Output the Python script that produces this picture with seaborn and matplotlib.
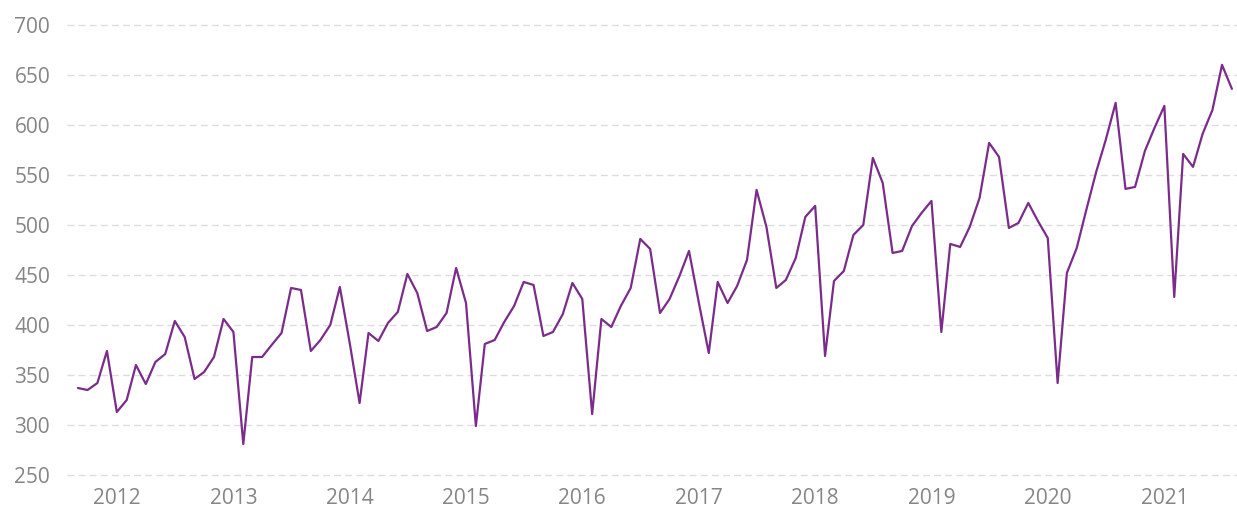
import matplotlib
matplotlib.use("Agg")
import matplotlib.pyplot as plt
import matplotlib.dates as mdates
import seaborn as sns
import pandas as pd

# monthly values, Sep 2011 .. Aug 2021
start_month = "2011-09-01"
values = [
    337, 335, 342, 374,                                            # 2011 Sep-Dec
    313, 325, 360, 341, 363, 371, 404, 388, 346, 353, 368, 406,    # 2012
    393, 281, 368, 368, 380, 392, 437, 435, 374, 385, 400, 438,    # 2013
    382, 322, 392, 384, 402, 413, 451, 432, 394, 398, 412, 457,    # 2014
    422, 299, 381, 385, 403, 419, 443, 440, 389, 393, 411, 442,    # 2015
    426, 311, 406, 398, 419, 437, 486, 476, 412, 426, 449, 474,    # 2016
    422, 372, 443, 422, 439, 465, 535, 498, 437, 445, 467, 508,    # 2017
    519, 369, 444, 454, 490, 500, 567, 542, 472, 474, 499, 512,    # 2018
    524, 393, 481, 478, 498, 527, 582, 568, 497, 502, 522, 504,    # 2019
    487, 342, 452, 477, 515, 553, 585, 622, 536, 538, 574, 597,    # 2020
    619, 428, 571, 558, 591, 615, 660, 636,                        # 2021 Jan-Aug
]
y_ticks = [250, 300, 350, 400, 450, 500, 550, 600, 650, 700]

df = pd.DataFrame({
    "month": pd.date_range(start_month, periods=len(values), freq="MS"),
    "value": values,
})

sns.set_style("white")
plt.rcParams["font.family"] = ["Open Sans", "DejaVu Sans"]

fig = plt.figure(figsize=(12.37, 5.07), dpi=100)
ax = fig.add_axes([0.054, 0.063, 0.946, 0.888])

sns.lineplot(data=df, x="month", y="value", ax=ax, color="#7b2c8b", linewidth=1.6)

ax.set_ylim(250, 700)
ax.set_yticks(y_ticks)
ax.set_xlim(pd.Timestamp("2011-07-28"), pd.Timestamp("2021-08-17"))
ax.xaxis.set_major_locator(mdates.YearLocator())
ax.xaxis.set_major_formatter(mdates.DateFormatter("%Y"))

ax.grid(axis="y", color="#dddddd", linestyle=(0, (5, 3)), linewidth=1)
ax.grid(axis="x", visible=False)
ax.set_axisbelow(True)
for g in ax.get_ygridlines():
    g.set_clip_on(False)
for s in ax.spines.values():
    s.set_visible(False)

ax.tick_params(axis="both", length=0, labelsize=15, labelcolor="#858585")
ax.tick_params(axis="y", pad=12)
ax.tick_params(axis="x", pad=9)
ax.set_xlabel("")
ax.set_ylabel("")

fig.savefig("out.png", dpi=100)
